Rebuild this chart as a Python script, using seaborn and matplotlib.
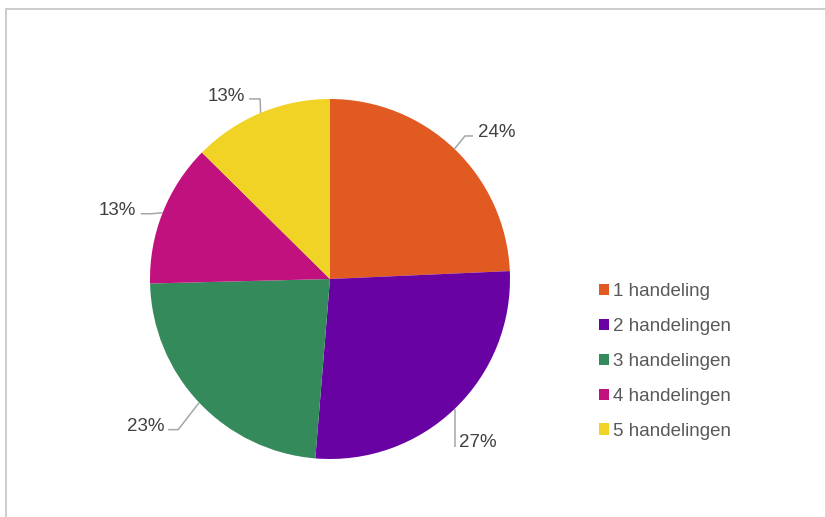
import numpy as np
import seaborn as sns
import matplotlib.pyplot as plt
from matplotlib.patches import Patch, Rectangle

categories = ["1 handeling", "2 handelingen", "3 handelingen", "4 handelingen", "5 handelingen"]
shares = [24.3, 27.0, 23.3, 12.8, 12.6]
colors = ["#E15A22", "#6902A3", "#348A5A", "#C0117F", "#F0D324"]

sns.set_theme(style="white")
plt.rcParams['font.family'] = ['Liberation Sans', 'DejaVu Sans']
palette = sns.color_palette(colors)

W, H = 825, 517
fig = plt.figure(figsize=(W / 100, H / 100), dpi=100)
ax = fig.add_axes([0, 0, 1, 1])

# pie in pixel units (y up)
cx, cy, r = 330, H - 279, 180
wedges, _ = ax.pie(shares, colors=palette, startangle=90, counterclock=False,
                   center=(cx, cy), radius=r, frame=False,
                   wedgeprops=dict(linewidth=0))
ax.set_xlim(0, W)
ax.set_ylim(0, H)
ax.set_aspect("equal")
ax.axis("off")

# leader lines: (elbow dx, elbow dy) from the edge point, tail length, text offset (pixels, y down)
leaders = [
    ((10.5, -13), 8, (5, 1)),
    ((0, 38), 0, (4, 0)),
    ((-21, 27), -10, (-4, 1)),
    ((-11, 1), -11, (-5, 1)),
    ((-0.5, -14), -11, (-4, 2)),
]
txt_color = "#404040"
for w, val, (el, tail, toff) in zip(wedges, shares, leaders):
    mid = np.deg2rad((w.theta1 + w.theta2) / 2)
    px, py = cx + r * np.cos(mid), cy + r * np.sin(mid)
    ex, ey = px + el[0], py - el[1]
    tx, ty = ex + tail, ey
    ax.plot([px, ex, tx], [py, ey, ty], color="#a6a6a6", lw=1.1, solid_capstyle="butt")
    side = "left" if (tail > 0 or (tail == 0 and toff[0] > 0)) else "right"
    ax.text(tx + toff[0], ty - toff[1], f"{val:.0f}%", ha=side, va="baseline",
            fontsize=13.5, color=txt_color)

handles = [Patch(facecolor=c, edgecolor="none") for c in palette]
fig.legend(handles, categories, loc="center left", bbox_to_anchor=(599 / W, 1 - 361.5 / H),
           frameon=False, fontsize=13.5, handlelength=0.55, handleheight=0.55,
           handletextpad=0.2, labelspacing=0.95, labelcolor="#595959",
           borderaxespad=0, borderpad=0)

# chart frame (only top and left edges visible)
fig.patches.append(Rectangle((5.5 / W, -0.05), 1.1, 1 - 8.5 / H + 0.05,
                             transform=fig.transFigure, fill=False,
                             edgecolor="#c8c8c8", lw=1.3))

fig.savefig("out.png", dpi=100)
